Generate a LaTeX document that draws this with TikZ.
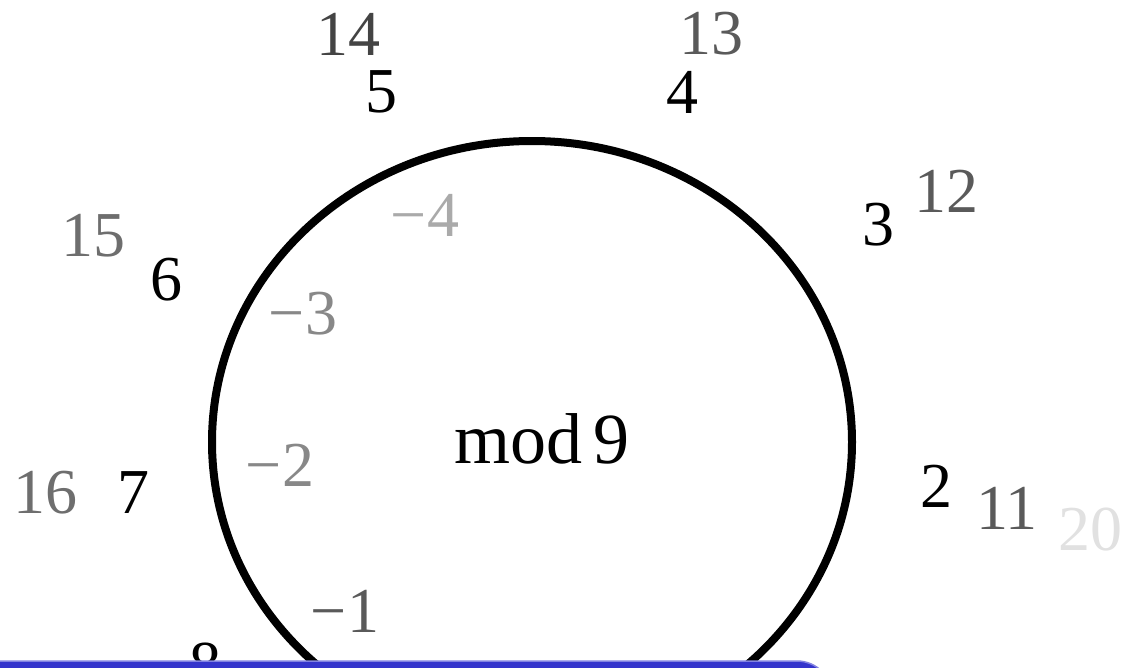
\documentclass[tikz,border=0pt]{standalone}
\usepackage{fontspec}
\setmainfont{Liberation Serif}
\definecolor{barblue}{RGB}{52,52,204}
\definecolor{baredge}{RGB}{130,130,225}
\definecolor{gA}{RGB}{68,68,68}
\definecolor{gB}{RGB}{90,90,90}
\definecolor{gC}{RGB}{110,110,110}
\definecolor{gD}{RGB}{136,136,136}
\definecolor{gE}{RGB}{170,170,170}
\definecolor{gF}{RGB}{225,225,225}
\tikzset{
  num/.style={inner sep=0pt, outer sep=0pt, anchor=center, font=\fontsize{64}{70}\selectfont},
  modtext/.style={inner sep=0pt, anchor=center, font=\fontsize{72}{80}\selectfont},
  ring/.style={draw=black, line width=8pt},
  bar/.style={fill=barblue, draw=baredge, line width=1.5pt, rounded corners=35pt}
}
\begin{document}
\begin{tikzpicture}[x=1pt,y=-1pt]
\useasboundingbox (0,0) rectangle (1122,667);
\draw[ring] (532,442) ellipse [x radius=320, y radius=301];
\node[modtext] (mod) at (542,439) {mod\,9};
% outer ring (black)
\node[num] (n5) at (381,92) {5};
\node[num] (n4) at (682,92) {4};
\node[num] (n3) at (878,225) {3};
\node[num] (n2) at (936,486) {2};
\node[num] (n6) at (166,280) {6};
\node[num] (n7) at (133,493) {7};
\node[num] (n8) at (205,665) {8};
% second ring (grey)
\node[num, text=gA] (n14) at (348,34) {14};
\node[num, text=gB] (n13) at (711,34) {13};
\node[num, text=gB] (n12) at (946,191) {12};
\node[num, text=gB] (n11) at (1007,508) {11};
\node[num, text=gF] (n20) at (1090,530) {20};
\node[num, text=gC] (n15) at (93,236) {15};
\node[num, text=gC] (n16) at (45,493) {16};
% negatives inside
\node[num, text=gB] (m1) at (345,611) {−1};
\node[num, text=gD] (m2) at (280,465) {−2};
\node[num, text=gD] (m3) at (303,314) {−3};
\node[num, text=gE] (m4) at (425,215) {−4};
% blue bar
\draw[bar] (-40,661) rectangle (832,740);
\end{tikzpicture}
\end{document}
